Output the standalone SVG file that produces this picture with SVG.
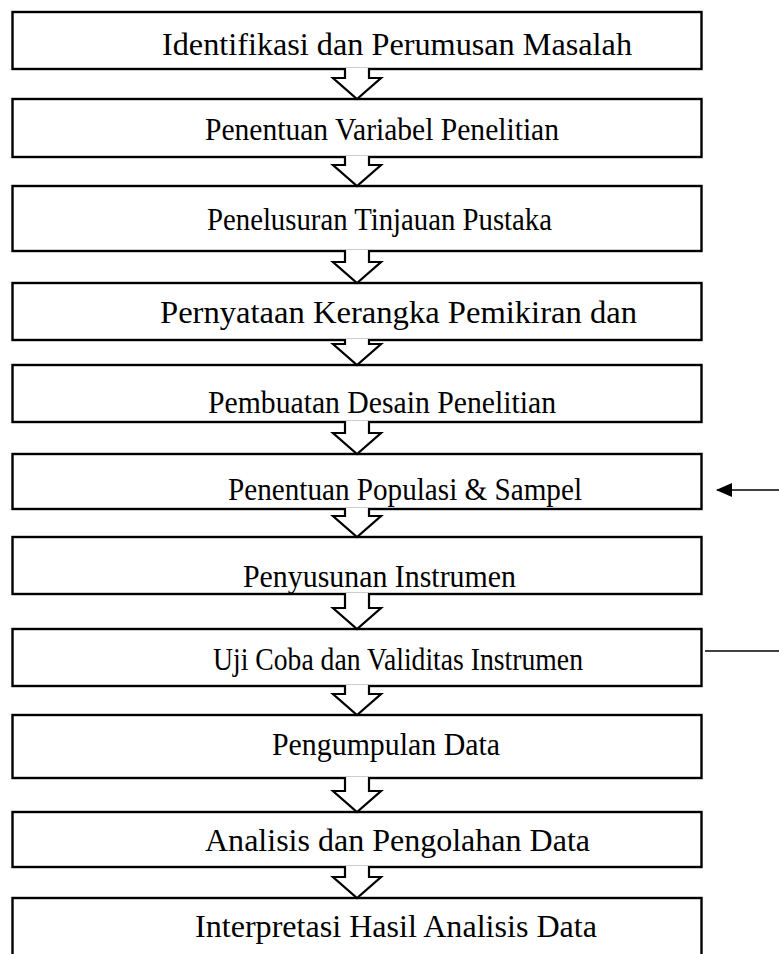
<svg xmlns="http://www.w3.org/2000/svg" width="779" height="954" viewBox="0 0 779 954">
<defs>
<style>
.box{fill:#fff;stroke:#000;stroke-width:2.4}
.lbl{font-family:"Liberation Serif","Times New Roman",serif;font-size:31px;fill:#000}
.blk{fill:#fff;stroke:#000;stroke-width:2.2;stroke-linejoin:miter}
.ln{fill:none;stroke:#000;stroke-width:1.5}
</style>
<marker id="ah" markerWidth="16" markerHeight="14" refX="15" refY="7" orient="auto" markerUnits="userSpaceOnUse">
<path d="M0,0 L16,7 L0,14 Z" fill="#000"/>
</marker>
</defs>
<rect width="779" height="954" fill="#fff"/>
<g id="n1"><rect class="box" x="12.5" y="12" width="689" height="57"/><text class="lbl" x="162" y="55" textLength="470" lengthAdjust="spacingAndGlyphs">Identifikasi dan Perumusan Masalah</text></g>
<g id="n2"><rect class="box" x="12.5" y="99" width="689" height="58"/><text class="lbl" x="205" y="140" textLength="354" lengthAdjust="spacingAndGlyphs">Penentuan Variabel Penelitian</text></g>
<g id="n3"><rect class="box" x="12.5" y="186" width="689" height="65"/><text class="lbl" x="207" y="230" textLength="345" lengthAdjust="spacingAndGlyphs">Penelusuran Tinjauan Pustaka</text></g>
<g id="n4"><rect class="box" x="12.5" y="283" width="689" height="57"/><text class="lbl" x="160" y="323" textLength="477" lengthAdjust="spacingAndGlyphs">Pernyataan Kerangka Pemikiran dan</text></g>
<g id="n5"><rect class="box" x="12.5" y="365" width="689" height="57"/><text class="lbl" x="208" y="413" textLength="348" lengthAdjust="spacingAndGlyphs">Pembuatan Desain Penelitian</text></g>
<g id="n6"><rect class="box" x="12.5" y="454" width="689" height="55"/><text class="lbl" x="228" y="500" textLength="354" lengthAdjust="spacingAndGlyphs">Penentuan Populasi &amp; Sampel</text></g>
<g id="n7"><rect class="box" x="12.5" y="537" width="689" height="57"/><text class="lbl" x="243" y="587" textLength="273" lengthAdjust="spacingAndGlyphs">Penyusunan Instrumen</text></g>
<g id="n8"><rect class="box" x="12.5" y="629" width="689" height="57"/><text class="lbl" x="213" y="670" textLength="370" lengthAdjust="spacingAndGlyphs">Uji Coba dan Validitas Instrumen</text></g>
<g id="n9"><rect class="box" x="12.5" y="715" width="689" height="63"/><text class="lbl" x="272" y="755" textLength="228" lengthAdjust="spacingAndGlyphs">Pengumpulan Data</text></g>
<g id="n10"><rect class="box" x="12.5" y="812" width="689" height="55"/><text class="lbl" x="205" y="851" textLength="385" lengthAdjust="spacingAndGlyphs">Analisis dan Pengolahan Data</text></g>
<g id="n11"><rect class="box" x="12.5" y="898" width="689" height="70"/><text class="lbl" x="195" y="937" textLength="402" lengthAdjust="spacingAndGlyphs">Interpretasi Hasil Analisis Data</text></g>
<g id="connectors">
<path class="blk" d="M345,68 V78 H333 L357,99 L381,78 H369 V68"/>
<path class="blk" d="M345,156 V165 H333 L357,186 L381,165 H369 V156"/>
<path class="blk" d="M345,250 V262 H333 L357,283 L381,262 H369 V250"/>
<path class="blk" d="M345,339 V344 H333 L357,365 L381,344 H369 V339"/>
<path class="blk" d="M345,421 V433 H333 L357,454 L381,433 H369 V421"/>
<path class="blk" d="M345,508 V516 H333 L357,537 L381,516 H369 V508"/>
<path class="blk" d="M345,593 V608 H333 L357,629 L381,608 H369 V593"/>
<path class="blk" d="M345,685 V694 H333 L357,715 L381,694 H369 V685"/>
<path class="blk" d="M345,777 V791 H333 L357,812 L381,791 H369 V777"/>
<path class="blk" d="M345,866 V877 H333 L357,898 L381,877 H369 V866"/>
<line class="ln" x1="779" y1="490" x2="717" y2="490" marker-end="url(#ah)"/>
<line class="ln" x1="705" y1="651" x2="779" y2="651"/>
</g>
</svg>
